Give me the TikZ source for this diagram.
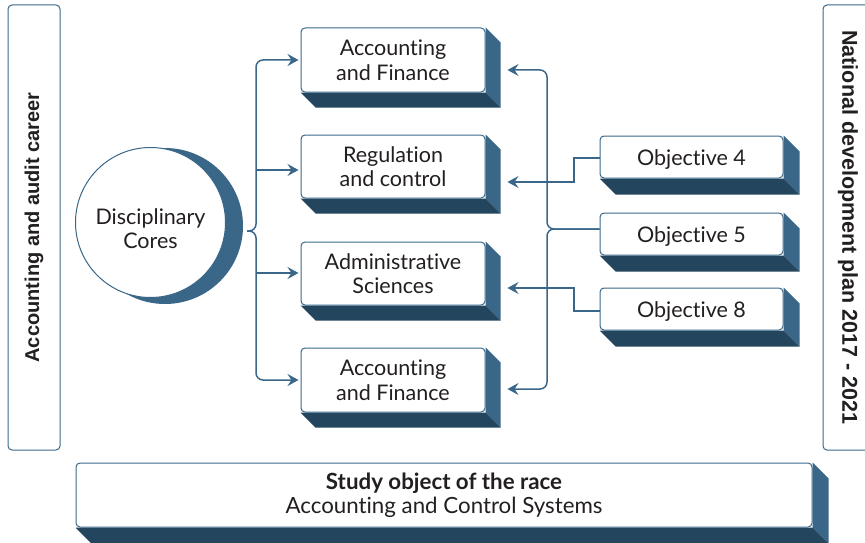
\documentclass[tikz,border=0pt]{standalone}
\usepackage{fontspec}
\setmainfont{Lato}[Ligatures=NoCommon]
\newfontfamily\arialfont{Liberation Sans}
\usetikzlibrary{arrows.meta,calc}
\pgfdeclarelayer{bg}
\pgfsetlayers{bg,main}
\definecolor{edge}{HTML}{3A6789}
\definecolor{sideface}{HTML}{3A6688}
\definecolor{botface}{HTML}{23455E}
\definecolor{ink}{HTML}{231F20}
\newcommand\extrude[2]{%
  \begin{pgfonlayer}{bg}
    \fill[sideface] (#1.north east) -- ++(#2,#2) -- ($(#1.south east)+(#2,#2)$) -- (#1.south east) -- cycle;
    \fill[botface] (#1.south west) -- ++(#2,#2) -- ($(#1.south east)+(#2,#2)$) -- (#1.south east) -- cycle;
  \end{pgfonlayer}}
\newcommand\lowered[2]{\raisebox{-#1}[\height][\depth]{#2}}
\begin{document}
\begin{tikzpicture}[x=1pt,y=-1pt,
  front/.style={draw=edge, line width=1pt, fill=white, rounded corners=4pt, inner sep=0pt,
    align=center, text=ink, font=\fontsize{21.5}{24.5}\selectfont},
  sidebox/.style={draw=edge, line width=1pt, fill=white, rounded corners=4pt, inner sep=0pt,
    text=ink, minimum width=445pt},
  conn/.style={draw=edge, line width=1.5pt},
  arr/.style={conn, -{Stealth[length=11pt,width=12pt,inset=4pt]}},
]
\useasboundingbox (0,0) rectangle (865,543);

% side boxes
\node[sidebox, rotate=90, minimum height=52pt, font=\arialfont\bfseries\fontsize{20}{24}\selectfont]
  (career) at (34,227.5) {Accounting and audit career};
\node[sidebox, rotate=-90, minimum height=50pt, font=\arialfont\bfseries\fontsize{21.5}{24}\selectfont]
  (plan) at (848,227.5) {National development plan 2017 - 2021};

% circle
\node[circle, fill=sideface, minimum size=156pt, inner sep=0pt] (coreshadow) at (165,226) {};
\node[circle, draw=edge, line width=1pt, fill=white, minimum size=150pt, inner sep=0pt, align=center,
  text=ink, font=\fontsize{21.5}{24.5}\selectfont] (core) at (150.5,222.5)
  {\lowered{6pt}{\parbox{120pt}{\centering Disciplinary\\Cores}}};

% main boxes
\node[front, minimum width=184pt, minimum height=64pt] (b1) at (393,60) {Accounting\\and Finance};
\extrude{b1}{15}
\node[front, minimum width=184pt, minimum height=63pt] (b2) at (393,166.5) {Regulation\\and control};
\extrude{b2}{15}
\node[front, minimum width=184pt, minimum height=63pt] (b3) at (393,273.5) {Administrative\\Sciences};
\extrude{b3}{15}
\node[front, minimum width=184pt, minimum height=64pt] (b4) at (393,380) {Accounting\\and Finance};
\extrude{b4}{15}

% objectives
\node[front, minimum width=183pt, minimum height=42pt] (o4) at (691.5,157) {\lowered{3pt}{Objective 4}};
\extrude{o4}{16}
\node[front, minimum width=183pt, minimum height=42pt] (o5) at (691.5,234) {\lowered{3pt}{Objective 5}};
\extrude{o5}{16}
\node[front, minimum width=183pt, minimum height=42pt] (o8) at (691.5,309) {\lowered{3pt}{Objective 8}};
\extrude{o8}{16}

% bottom box
\node[front, minimum width=736pt, minimum height=64pt, font=\fontsize{22.3}{23.5}\selectfont] (study) at (444,495)
  {\textbf{Study object of the race}\\Accounting and Control Systems};
\extrude{study}{16}

% left connectors
\coordinate (lcusp) at (247,231);
\coordinate (lsp2) at (256,170);
\coordinate (lsp3) at (256,273);
\draw[arr, rounded corners=7pt] (lcusp) -- (256,231) -- (256,60) -- ([xshift=-2pt]b1.west);
\draw[arr, rounded corners=7pt] (lcusp) -- (256,231) -- (256,380) -- ([xshift=-2pt]b4.west);
\draw[arr] (lsp2) -- ([xshift=-2pt]lsp2 -| b2.west);
\draw[arr] (lsp3) -- ([xshift=-2pt]lsp3 -| b3.west);

% right connectors
\draw[arr, rounded corners=7pt] ([yshift=5pt]o5.west) -- (547,229) -- (547,70) -- ([xshift=22pt,yshift=-10pt]b1.east);
\draw[arr, rounded corners=7pt] ([yshift=5pt]o5.west) -- (547,229) -- (547,389) -- ([xshift=22pt,yshift=-9pt]b4.east);
\draw[arr] ([yshift=-1pt]o4.west) -- (574,158) -- (574,182) -- ([xshift=22pt,yshift=-15.5pt]b2.east);
\draw[arr] ([yshift=-2pt]o8.west) -- (574,311) -- (574,288) -- ([xshift=22pt,yshift=-14.5pt]b3.east);
\end{tikzpicture}
\end{document}
